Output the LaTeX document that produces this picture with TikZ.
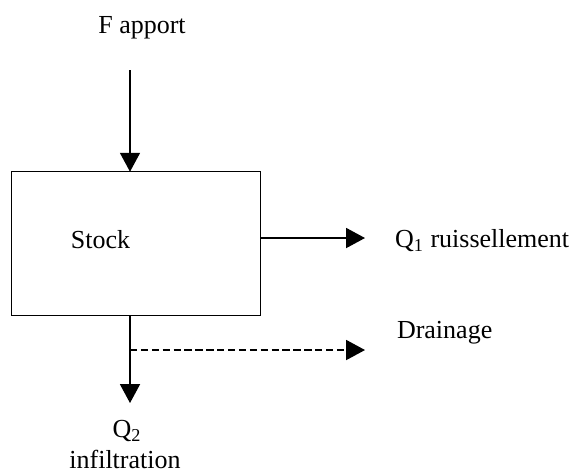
\documentclass[tikz,border=0pt]{standalone}
\usepackage{fontspec}
\setmainfont{Liberation Serif}
\usetikzlibrary{arrows.meta}
\begin{document}
\begin{tikzpicture}[x=0.45pt,y=-0.45pt,
  lbl/.style={font=\fontsize{11.7}{14}\selectfont, inner sep=0pt, outer sep=0pt},
  flow/.style={line width=0.7pt, -{Triangle[length=8.5pt,width=9pt]}},
  dashflow/.style={flow, dash pattern=on 3.3pt off 1.6pt},
  boxstyle/.style={draw, line width=0.7pt, minimum width=112.05pt, minimum height=64.8pt, inner sep=0pt, outer sep=0pt}]
\useasboundingbox (0,0) rectangle (573,472);
\node[boxstyle] (box) at (136.2,243.7) {};
\node[lbl, anchor=base] (stocklbl) at (100.5,248) {Stock};
\node[lbl, anchor=base] (fapport) at (142,33) {F apport};
\node[lbl, anchor=base west] (q1) at (395,247) {Q\textsubscript{1} ruissellement};
\node[lbl, anchor=base west] (drain) at (397,338) {Drainage};
\node[lbl, anchor=base] (q2a) at (127,437) {Q\textsubscript{2}};
\node[lbl, anchor=base] (q2b) at (125,468) {infiltration};
\coordinate (fin) at (130,70);
\coordinate (q1end) at (365,238);
\coordinate (q2end) at (130,403);
\coordinate (dstart) at (130,350);
\coordinate (dend) at (365,350);
\draw[flow] (fin) -- (fin |- box.north);
\draw[flow] (q1end -| box.east) -- (q1end);
\draw[flow] (box.south -| q2end) -- (q2end);
\draw[dashflow] (dstart) -- (dend);
\end{tikzpicture}
\end{document}
